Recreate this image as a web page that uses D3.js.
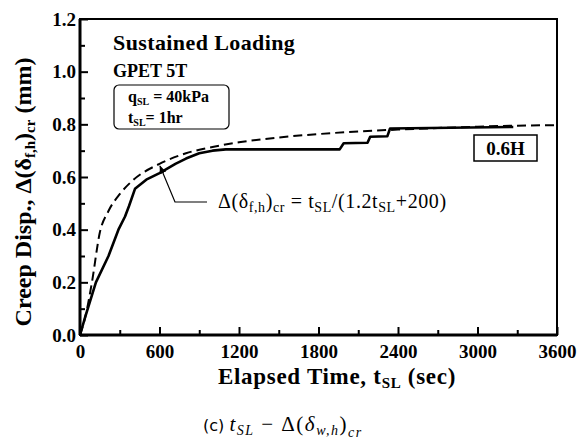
<!DOCTYPE html>
<html><head><meta charset="utf-8">
<script src="https://cdn.jsdelivr.net/npm/d3@7"></script>
<style>
body{margin:0;background:#fff;}
svg{display:block;font-family:"Liberation Serif","Times New Roman",serif;}
</style></head>
<body><svg id="c" width="584" height="448"></svg>
<script>
// Data
const xTicks = [0, 600, 1200, 1800, 2400, 3000, 3600];
const yTicks = [0.0, 0.2, 0.4, 0.6, 0.8, 1.0, 1.2];
const measuredTime = [0, 40, 120, 215, 290, 340, 370, 415, 500, 600, 720, 800, 900, 1000, 1100, 1960, 1990, 2170, 2190, 2320, 2340, 3270];
const measuredDisp = [0, 0.07, 0.2, 0.3, 0.4, 0.45, 0.49, 0.555, 0.59, 0.615, 0.65, 0.67, 0.69, 0.70, 0.705, 0.705, 0.728, 0.73, 0.753, 0.755, 0.784, 0.79];
const fitTime = [0, 45, 90, 150, 214, 300, 400, 600, 800, 1000, 1200, 1500, 1800, 2100, 2400, 2700, 3000, 3300, 3600];
const fitDisp = [0, 0.08, 0.2, 0.39, 0.47, 0.535, 0.588, 0.65, 0.69, 0.714, 0.732, 0.75, 0.763, 0.773, 0.78, 0.786, 0.791, 0.795, 0.797];

const SERIF = "'Liberation Serif', 'Times New Roman', serif";
const svg = d3.select("#c");
const L = 80, R = 557, T = 19, B = 335;
const x = d3.scaleLinear().domain([0, 3600]).range([L, R]);
const y = d3.scaleLinear().domain([0, 1.2]).range([B, T]);

// frame
svg.append("rect").attr("x", L).attr("y", T).attr("width", R - L).attr("height", B - T)
  .attr("fill", "none").attr("stroke", "#000").attr("stroke-width", 2);
svg.append("line").attr("x1", L).attr("x2", L).attr("y1", T).attr("y2", B).attr("stroke", "#000").attr("stroke-width", 3);
svg.append("line").attr("x1", L).attr("x2", R).attr("y1", B).attr("y2", B).attr("stroke", "#000").attr("stroke-width", 3);

// x axis (ticks inward)
const xMinor = d3.range(300, 3600, 600);
const xa = svg.append("g").attr("transform", `translate(0,${B})`)
  .call(d3.axisBottom(x).tickValues(xTicks).tickSize(-8).tickPadding(10).tickFormat(d3.format("d")));
xa.attr("font-family", null);
xa.select(".domain").remove();
xa.selectAll(".tick line").attr("stroke-width", 2);
xa.selectAll(".tick text").style("font-size", "19px").style("font-weight", "bold").style("font-family", SERIF);
svg.append("g").attr("transform", `translate(0,${B})`)
  .call(d3.axisBottom(x).tickValues(xMinor).tickSize(-5).tickFormat(""))
  .call(g => g.select(".domain").remove())
  .selectAll(".tick line").attr("stroke-width", 2);

// y axis
const yMinor = d3.range(0.1, 1.2, 0.2);
const ya = svg.append("g").attr("transform", `translate(${L},0)`)
  .call(d3.axisLeft(y).tickValues(yTicks).tickSize(-8).tickPadding(4).tickFormat(d3.format(".1f")));
ya.attr("font-family", null);
ya.select(".domain").remove();
ya.selectAll(".tick line").attr("stroke-width", 2);
ya.selectAll(".tick text").style("font-size", "19px").style("font-weight", "bold").style("font-family", SERIF);
svg.append("g").attr("transform", `translate(${L},0)`)
  .call(d3.axisLeft(y).tickValues(yMinor).tickSize(-5).tickFormat(""))
  .call(g => g.select(".domain").remove())
  .selectAll(".tick line").attr("stroke-width", 2);

// curves
svg.append("path").datum(fitTime.map((t, i) => [t, fitDisp[i]]))
  .attr("d", d3.line().x(d => x(d[0])).y(d => y(d[1])).curve(d3.curveMonotoneX))
  .attr("fill", "none").attr("stroke", "#000")
  .attr("stroke-width", 2).attr("stroke-dasharray", "9,5");
svg.append("path").datum(measuredTime.map((t, i) => [t, measuredDisp[i]]))
  .attr("d", d3.line().x(d => x(d[0])).y(d => y(d[1]))).attr("fill", "none").attr("stroke", "#000")
  .attr("stroke-width", 2.6).attr("stroke-linejoin", "round");

// annotation leader + arrow
svg.append("defs").append("marker").attr("id", "ah").attr("viewBox", "0 0 10 10")
  .attr("refX", 9).attr("refY", 5).attr("markerWidth", 7).attr("markerHeight", 7).attr("orient", "auto")
  .append("path").attr("d", "M0,1 L10,5 L0,9 Z").attr("fill", "#000");
svg.append("path").attr("d", "M207,202 L175,202 L160,166").attr("fill", "none")
  .attr("stroke", "#000").attr("stroke-width", 1.2).attr("marker-end", "url(#ah)");
const eq = svg.append("text").attr("x", 218).attr("y", 208).style("font-size", "20px").style("letter-spacing", "0.6px");
eq.append("tspan").text("Δ(δ");
eq.append("tspan").style("font-size", "14px").attr("dy", 4).text("f,h");
eq.append("tspan").attr("dy", -4).text(")");
eq.append("tspan").style("font-size", "14px").attr("dy", 4).text("cr");
eq.append("tspan").attr("dy", -4).text(" = t");
eq.append("tspan").style("font-size", "14px").attr("dy", 4).text("SL");
eq.append("tspan").attr("dy", -4).text("/(1.2t");
eq.append("tspan").style("font-size", "14px").attr("dy", 4).text("SL");
eq.append("tspan").attr("dy", -4).text("+200)");

// labels inside plot
svg.append("text").attr("x", 113).attr("y", 50).style("font-size", "22px").style("font-weight", "bold")
  .style("letter-spacing", "0.4px").text("Sustained Loading");
svg.append("text").attr("x", 113).attr("y", 77).style("font-size", "18px").style("font-weight", "bold").text("GPET 5T");
svg.append("rect").attr("x", 114).attr("y", 85).attr("width", 115).attr("height", 44).attr("rx", 5)
  .attr("fill", "none").attr("stroke", "#000").attr("stroke-width", 1.2);
const q = svg.append("text").attr("x", 128).attr("y", 102).style("font-size", "16px").style("font-weight", "bold");
q.append("tspan").text("q");
q.append("tspan").style("font-size", "10px").attr("dy", 3).text("SL");
q.append("tspan").attr("dy", -3).text("  = 40kPa");
const ts = svg.append("text").attr("x", 128).attr("y", 123).style("font-size", "16px").style("font-weight", "bold");
ts.append("tspan").text("t");
ts.append("tspan").style("font-size", "10px").attr("dy", 3).text("SL");
ts.append("tspan").attr("dy", -3).text("= 1hr");

svg.append("rect").attr("x", 474).attr("y", 135).attr("width", 63).attr("height", 26)
  .attr("fill", "none").attr("stroke", "#000").attr("stroke-width", 1.5);
svg.append("text").attr("x", 505.5).attr("y", 155).attr("text-anchor", "middle").style("font-size", "19px")
  .style("font-weight", "bold").text("0.6H");

// axis titles
const xt = svg.append("text").attr("x", 337).attr("y", 384).attr("text-anchor", "middle")
  .style("font-size", "23px").style("font-weight", "bold").style("letter-spacing", "0.7px");
xt.append("tspan").text("Elapsed Time, t");
xt.append("tspan").style("font-size", "15px").attr("dy", 4).text("SL");
xt.append("tspan").attr("dy", -4).text(" (sec)");

const yt = svg.append("text").attr("transform", "translate(31,192) rotate(-90)").attr("text-anchor", "middle")
  .style("font-size", "24px").style("font-weight", "bold");
yt.append("tspan").text("Creep Disp., Δ(δ");
yt.append("tspan").style("font-size", "15px").attr("dy", 4).text("f,h");
yt.append("tspan").attr("dy", -4).text(")");
yt.append("tspan").style("font-size", "15px").attr("dy", 4).text("cr");
yt.append("tspan").attr("dy", -4).text(" (mm)");

// caption
const cap = svg.append("text").attr("x", 203).attr("y", 431).style("font-size", "21px").style("letter-spacing", "1.5px");
cap.append("tspan").style("font-family", "'DejaVu Sans', sans-serif").style("font-size", "16px").style("letter-spacing", "0px").text("(c) ");
cap.append("tspan").style("font-style", "italic").text("t");
cap.append("tspan").style("font-style", "italic").style("font-size", "14px").attr("dy", 4).text("SL");
cap.append("tspan").attr("dy", -4).text(" − Δ(");
cap.append("tspan").style("font-style", "italic").text("δ");
cap.append("tspan").style("font-style", "italic").style("font-size", "14px").attr("dy", 4).text("w,h");
cap.append("tspan").attr("dy", -4).text(")");
cap.append("tspan").style("font-style", "italic").style("font-size", "14px").attr("dy", 6).text("cr");
</script></body></html>
